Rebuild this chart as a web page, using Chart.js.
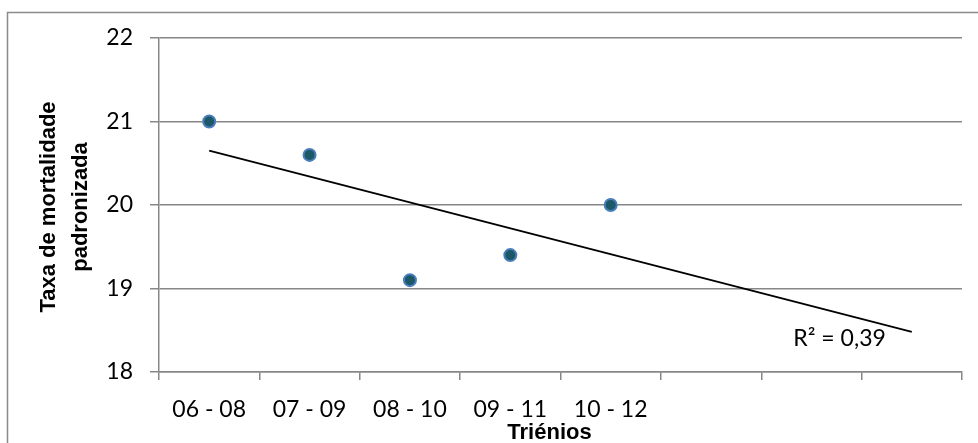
<!DOCTYPE html>
<html>
<head>
<meta charset="utf-8">
<script src="https://cdn.jsdelivr.net/npm/chart.js@4.4.1/dist/chart.umd.min.js"></script>
<style>
  body { margin: 0; background: #fff; }
  #wrap { width: 978px; height: 443px; }
</style>
</head>
<body>
<div id="wrap"><canvas id="chart" width="978" height="443"></canvas></div>
<script>
// data
const categories = ["06 - 08", "07 - 09", "08 - 10", "09 - 11", "10 - 12", "", "", ""];
const taxa = [21.0, 20.6, 19.1, 19.4, 20.0];
const trendEnds = [20.65, 18.48]; // trendline at first and last slot
const yTicks = [18, 19, 20, 21, 22];
const r2Text = "R² = 0,39";
const xTitle = "Triénios";
const yTitle = ["Taxa de mortalidade", "padronizada"];

// trendline only has its two ends, gap in between is spanned
let trendData = categories.map(() => null);
trendData[0] = trendEnds[0];
trendData[categories.length - 1] = trendEnds[1];

const gridGray = "#878787";
const tickFont = { family: "Lato", size: 23 };

const extras = {
  id: "extras",
  beforeDraw(chart) {
    let ctx = chart.ctx;
    ctx.save();
    ctx.strokeStyle = "#8a8a8a";
    ctx.lineWidth = 1.5;
    ctx.strokeRect(7.5, 12.5, 1100, 1100);
    ctx.restore();
  },
  afterDraw(chart) {
    let ctx = chart.ctx;
    let area = chart.chartArea;
    let xs = chart.scales.x;
    let ys = chart.scales.y;
    ctx.save();
    ctx.fillStyle = "#000";
    //axis titles
    ctx.font = "bold 22px 'Liberation Sans'";
    ctx.textAlign = "center";
    ctx.textBaseline = "alphabetic";
    ctx.fillText(xTitle, (area.left + area.right) / 2 - 11, 439);
    let yc = (area.top + area.bottom) / 2 + 2;
    [55, 87].forEach((bx, i) => {
      ctx.save();
      ctx.translate(bx, yc);
      ctx.rotate(-Math.PI / 2);
      ctx.fillText(yTitle[i], 0, 0);
      ctx.restore();
    });
    //R squared label near the end of the trendline
    ctx.font = "23px Lato";
    ctx.textAlign = "right";
    let ex = xs.getPixelForValue(categories.length - 1);
    let ey = ys.getPixelForValue(trendEnds[1]);
    ctx.fillText(r2Text, ex - 26, ey + 14);
    ctx.restore();
  }
};

new Chart(document.getElementById("chart"), {
  type: "line",
  data: {
    labels: categories,
    datasets: [
      {
        label: "Taxa",
        data: taxa,
        showLine: false,
        pointRadius: 6,
        pointHoverRadius: 6,
        pointBackgroundColor: "#1d5869",
        pointBorderColor: "#4a7ebb",
        pointBorderWidth: 2,
        order: 0
      },
      {
        label: "Tendência",
        data: trendData,
        spanGaps: true,
        borderColor: "#000",
        borderWidth: 1.8,
        pointRadius: 0,
        fill: false,
        order: 1
      }
    ]
  },
  options: {
    responsive: false,
    animation: false,
    layout: { padding: { left: 0, top: 38, right: 16, bottom: 0 } },
    plugins: {
      legend: { display: false },
      tooltip: { enabled: false }
    },
    scales: {
      x: {
        type: "category",
        offset: true,
        grid: { offset: true, drawOnChartArea: false, drawTicks: true, tickLength: 8, color: gridGray, lineWidth: 1.5 },
        border: { color: gridGray, width: 1.5 },
        ticks: { font: tickFont, color: "#000", padding: 16, maxRotation: 0, autoSkip: false },
        afterFit: s => { s.height = 443 - 372; }
      },
      y: {
        min: yTicks[0],
        max: yTicks[yTicks.length - 1],
        afterBuildTicks: s => { s.ticks = yTicks.map(v => ({ value: v })); },
        grid: { color: gridGray, lineWidth: 1.5, tickLength: 9 },
        border: { color: gridGray, width: 1.5 },
        ticks: { font: tickFont, color: "#000", padding: 17 },
        afterFit: s => { s.width = 159; }
      }
    }
  },
  plugins: [extras]
});
</script>
</body>
</html>
